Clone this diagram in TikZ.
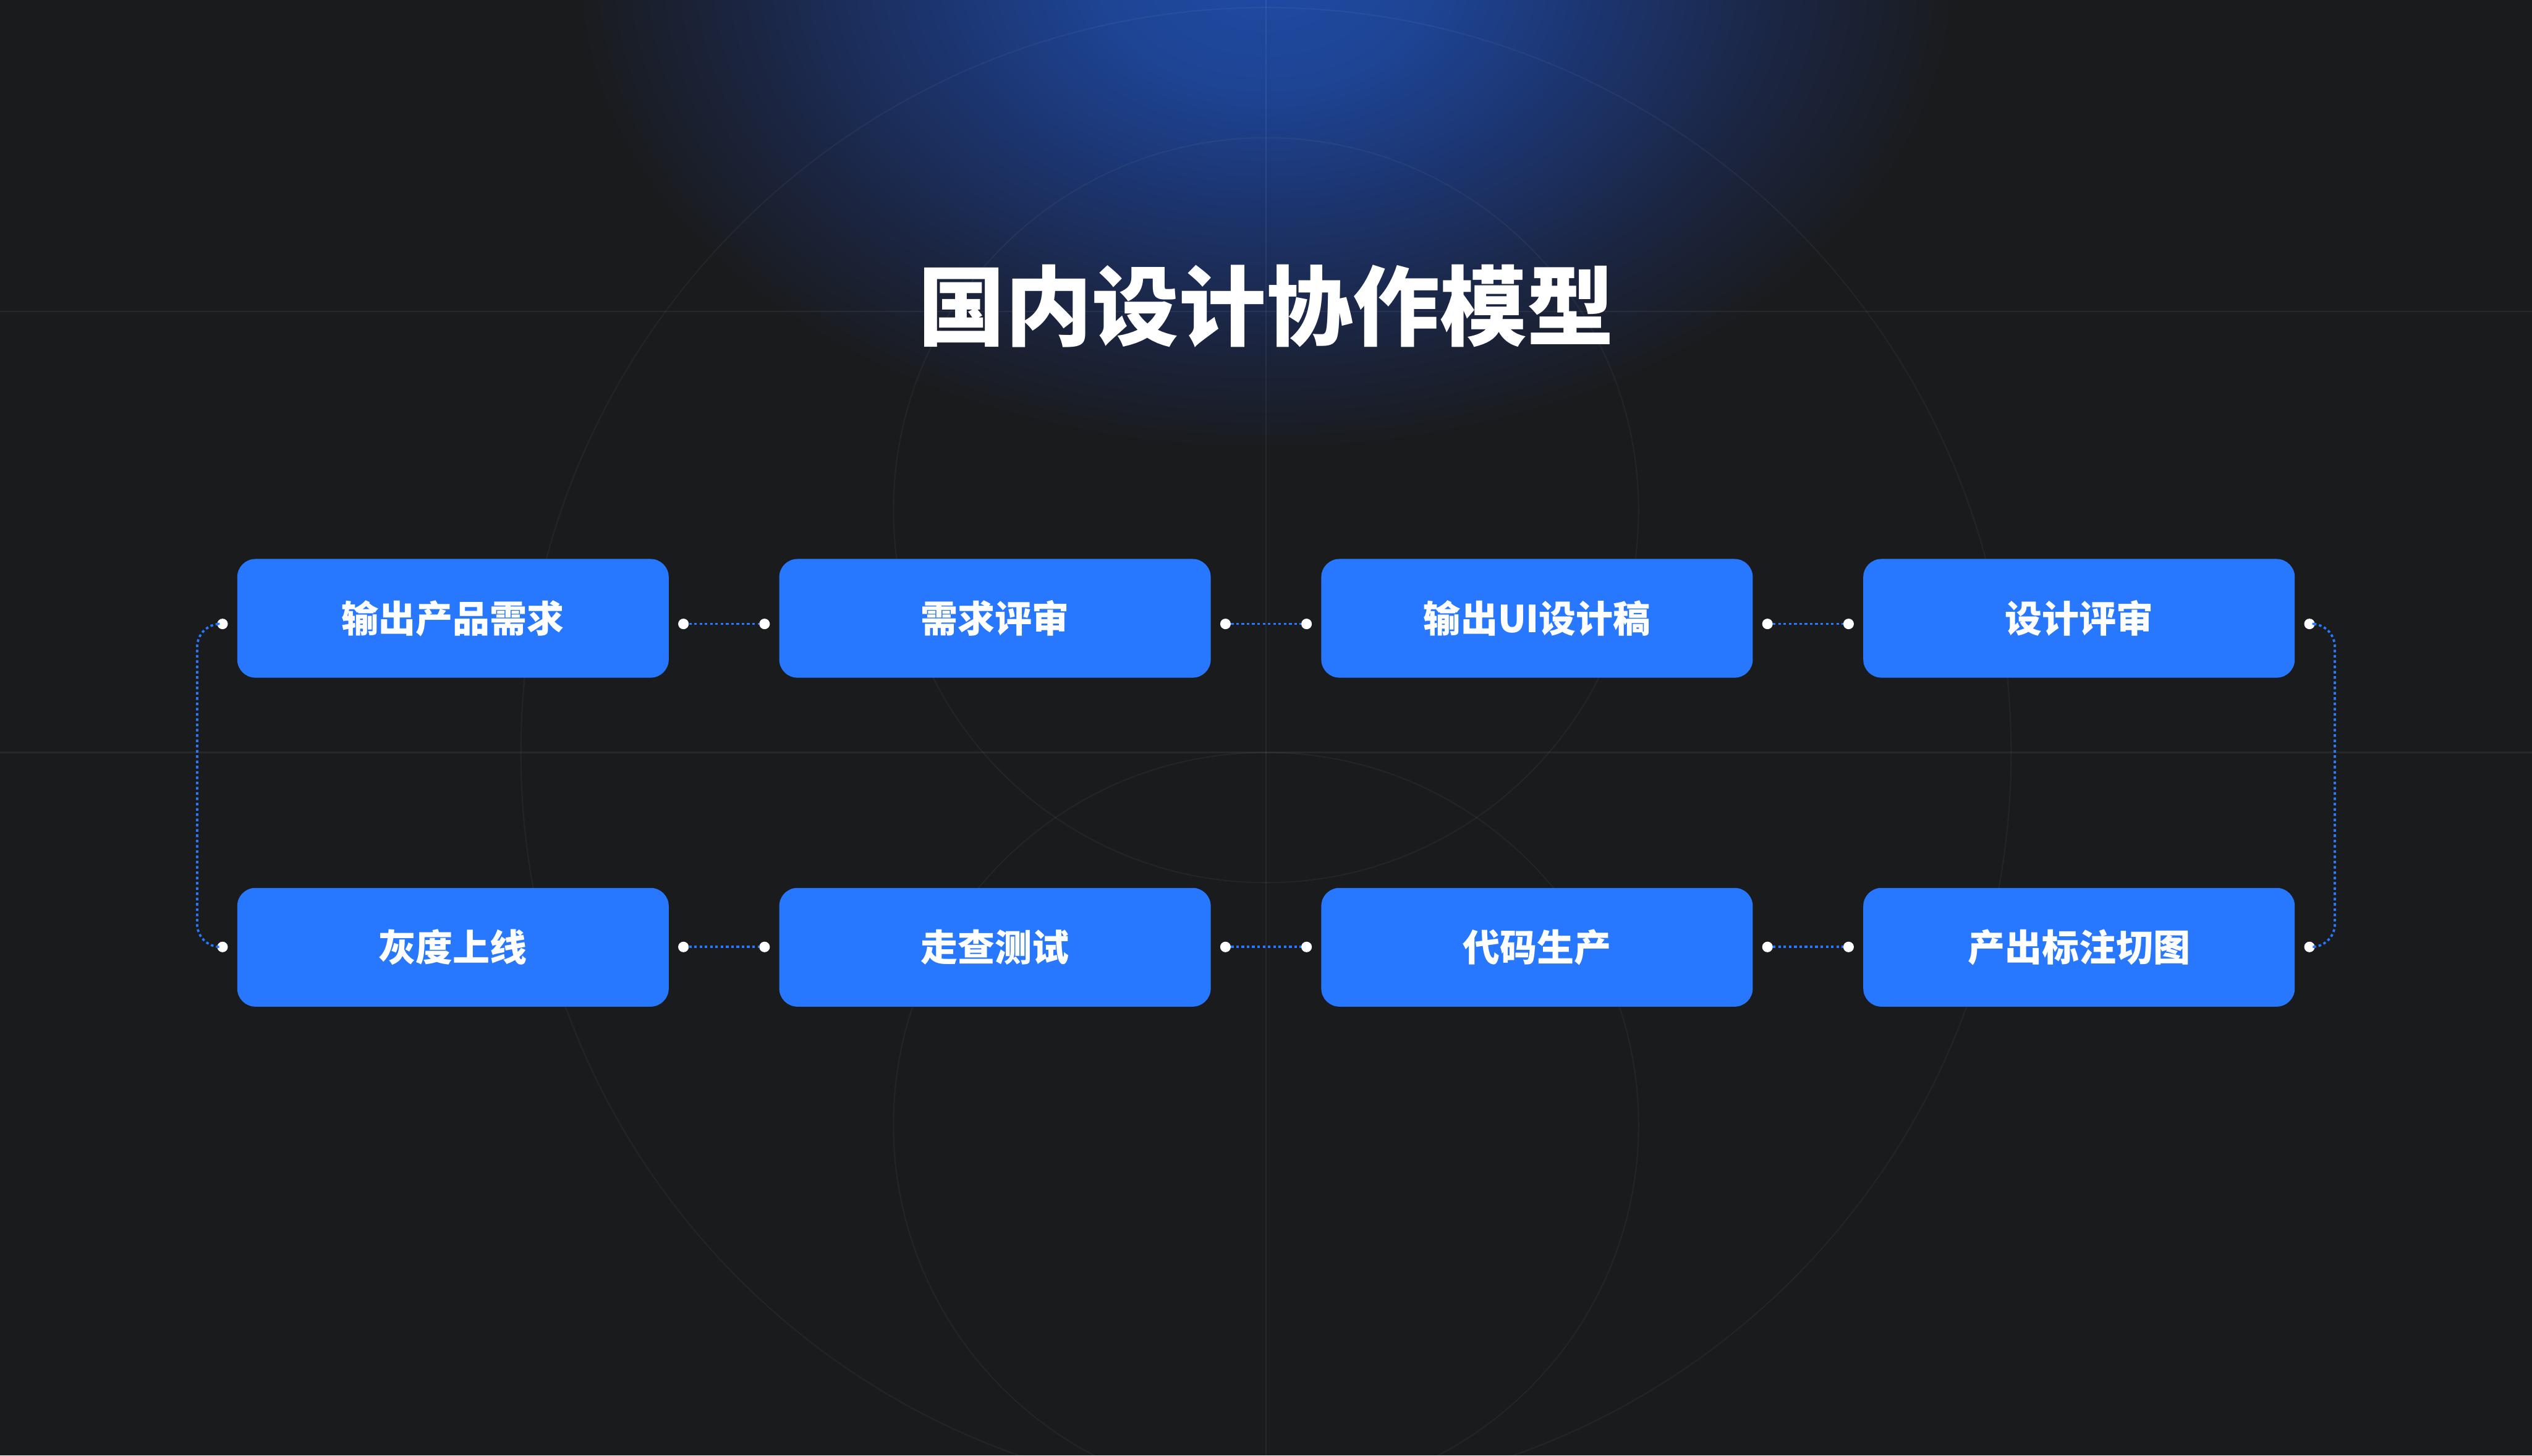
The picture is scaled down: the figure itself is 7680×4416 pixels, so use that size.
\documentclass[tikz,border=0pt]{standalone}
\usepackage{fontspec}
\newfontfamily\cjk{Noto Sans CJK SC}
\definecolor{bg}{RGB}{26,27,29}
\definecolor{boxblue}{RGB}{40,120,255}
\definecolor{glowA}{RGB}{31,75,164}
\definecolor{glowB}{RGB}{30,68,148}
\definecolor{glowC}{RGB}{28,53,112}
\definecolor{glowD}{RGB}{27,38,68}
\pgfdeclareradialshading{topglow}{\pgfpoint{0bp}{0bp}}{color(0bp)=(glowA); color(6bp)=(glowB); color(12bp)=(glowC); color(18.5bp)=(glowD); color(25bp)=(bg); color(50bp)=(bg)}
\tikzset{
  stage/.style={rectangle, rounded corners=0.55cm, fill=boxblue, minimum width=13.08cm, minimum height=3.6cm, inner sep=0pt, text=white, font=\cjk\bfseries\fontsize{32pt}{38pt}\selectfont},
  joint/.style={circle, fill=white, minimum size=0.32cm, inner sep=0pt},
  conn/.style={draw=boxblue, line width=0.07cm, dash pattern=on 0.08cm off 0.08cm},
  gridline/.style={draw=white, draw opacity=0.06, line width=0.04cm},
  ringline/.style={draw=white, draw opacity=0.045, line width=0.04cm}
}
\begin{document}
\begin{tikzpicture}[x=0.01cm, y=-0.01cm]
\fill[bg] (0,0) rectangle (7680,4416);
\useasboundingbox (0,0) rectangle (7680,4416);
\begin{scope}
\clip (0,0) rectangle (7680,4416);
\shade[shading=topglow] (3840,-80) ellipse [x radius=2100, y radius=1450];
\draw[gridline] (0,945) -- (7680,945);
\draw[gridline, line width=0.06cm] (0,2283) -- (7680,2283);
\draw[gridline] (3840,0) -- (3840,4416);
\draw[ringline] (3840,2283) circle [radius=2260];
\draw[ringline] (3840,1548) circle [radius=1130];
\draw[ringline] (3840,3413) circle [radius=1130];
\end{scope}

\node[font=\cjk\bfseries\fontsize{75pt}{90pt}\selectfont, text=white] (title) at (3840,928) {国内设计协作模型};

% top row
\node[stage] (b1) at (1374,1876) {输出产品需求};
\node[stage] (b2) at (3018,1876) {需求评审};
\node[stage] (b3) at (4662,1876) {输出UI设计稿};
\node[stage] (b4) at (6306,1876) {设计评审};
% bottom row
\node[stage] (b5) at (1374,2874) {灰度上线};
\node[stage] (b6) at (3018,2874) {走查测试};
\node[stage] (b7) at (4662,2874) {代码生产};
\node[stage] (b8) at (6306,2874) {产出标注切图};

% joints top row
\node[joint] (l1) at (675,1893) {};
\node[joint] (r1) at (2073,1893) {};
\node[joint] (l2) at (2319,1893) {};
\node[joint] (r2) at (3717,1893) {};
\node[joint] (l3) at (3963,1893) {};
\node[joint] (r3) at (5361,1893) {};
\node[joint] (l4) at (5607,1893) {};
\node[joint] (r4) at (7005,1893) {};
% joints bottom row
\node[joint] (l5) at (675,2873) {};
\node[joint] (r5) at (2073,2873) {};
\node[joint] (l6) at (2319,2873) {};
\node[joint] (r6) at (3717,2873) {};
\node[joint] (l7) at (3963,2873) {};
\node[joint] (r7) at (5361,2873) {};
\node[joint] (l8) at (5607,2873) {};
\node[joint] (r8) at (7005,2873) {};

\coordinate (lmid) at (598,2383);
\coordinate (rmid) at (7082,2383);

\draw[conn] (r1) -- (l2);
\draw[conn] (r2) -- (l3);
\draw[conn] (r3) -- (l4);
\draw[conn] (r5) -- (l6);
\draw[conn] (r6) -- (l7);
\draw[conn] (r7) -- (l8);
\draw[conn, rounded corners=0.7cm] (l1) -| (lmid) |- (l5);
\draw[conn, rounded corners=0.7cm] (r4) -| (rmid) |- (r8);
\end{tikzpicture}
\end{document}
